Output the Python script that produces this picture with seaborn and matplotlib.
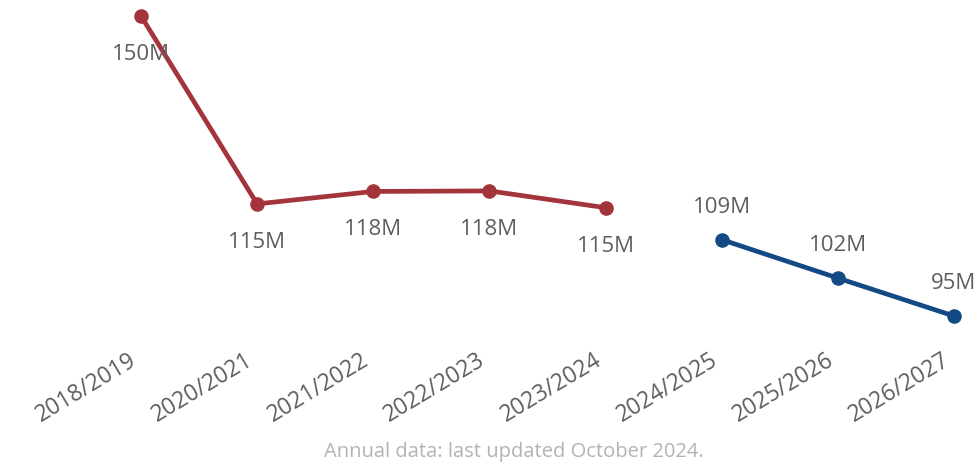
import numpy as np
import pandas as pd
import matplotlib
matplotlib.use("Agg")
import matplotlib.pyplot as plt
import matplotlib.transforms as mtrans
import seaborn as sns

years = ["2018/2019", "2020/2021", "2021/2022", "2022/2023", "2023/2024",
         "2024/2025", "2025/2026", "2026/2027"]
actual_vals = [150.0, 115.3, 117.6, 117.7, 114.6]
forecast_vals = [108.7, 101.6, 94.6]
RED = "#A3343C"
BLUE = "#134A85"
LABEL_GREY = "#605E5C"

sns.set_theme(style="white")
plt.rcParams["font.family"] = ["Open Sans", "DejaVu Sans"]

n_act = len(actual_vals)
df = pd.DataFrame({
    "pos": list(range(len(years))),
    "value": actual_vals + forecast_vals,
    "kind": ["actual"] * n_act + ["forecast"] * len(forecast_vals),
})

fig = plt.figure(figsize=(9.76, 4.64), dpi=100)
ax = fig.add_axes([141 / 976, 1 - 317 / 464, (954 - 141) / 976, (317 - 17) / 464])
sns.lineplot(data=df, x="pos", y="value", hue="kind", palette={"actual": RED, "forecast": BLUE},
             marker="o", markersize=10.5, markeredgewidth=0, linewidth=3.4, legend=False, ax=ax)
for line in ax.lines:
    line.set_clip_on(False)

ax.set_xlim(0, len(years) - 1)
ax.set_ylim(df["value"].min(), df["value"].max())

for _, r in df.iterrows():
    off = -27 if r["kind"] == "actual" else 24
    ax.annotate(f"{r['value']:.0f}M", (r["pos"], r["value"]), xytext=(0, off),
                textcoords="offset points", ha="center", va="center",
                fontsize=16, color=LABEL_GREY, annotation_clip=False)

ax.set_xticks(df["pos"])
ax.set_xticklabels(years, rotation=31, ha="right", va="center", rotation_mode="anchor",
                   fontsize=16.5, color=LABEL_GREY)
ax.tick_params(axis="x", length=0, pad=30)
shift = mtrans.ScaledTranslation(-6 / 100, 0, fig.dpi_scale_trans)
for lab in ax.get_xticklabels():
    lab.set_transform(lab.get_transform() + shift)
ax.set_yticks([])
ax.set_xlabel(""); ax.set_ylabel("")
sns.despine(ax=ax, left=True, bottom=True)

fig.text(0.527, 0.026, "Annual data: last updated October 2024.", ha="center", va="center",
         fontsize=14.5, color="#B3B3B3")

fig.savefig("out.png", dpi=100)
